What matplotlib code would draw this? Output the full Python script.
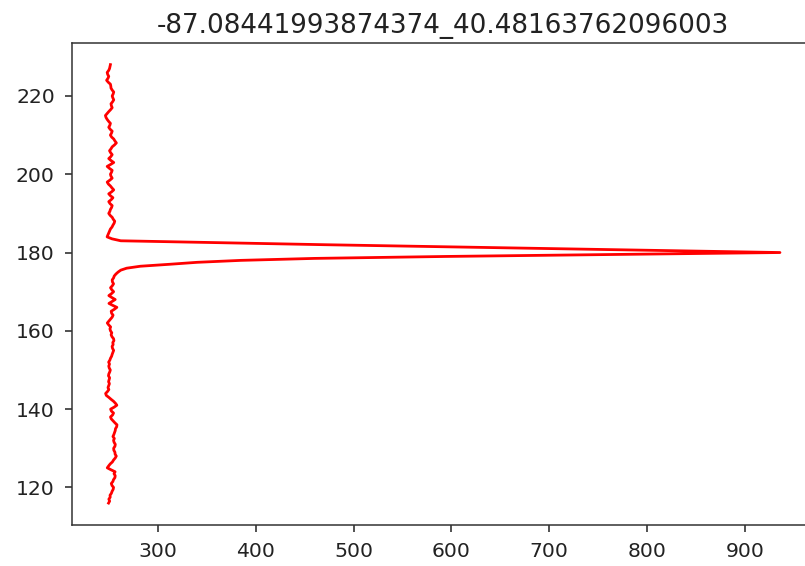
import matplotlib
matplotlib.use("Agg")
import matplotlib.pyplot as plt
import numpy as np

title = "-87.08441993874374_40.48163762096003"

# sampling levels (y): 116.0 to 228.0 in half steps
levels = np.arange(116.0, 228.25, 0.5)

# signal (x) values, one per level, bottom to top
values = [
    249.5, 250.6, 249.8, 251.2, 251.0, 252.4, 253.1, 254.2, 254.6, 253.0,   # 116.0-120.5
    252.3, 253.9, 254.6, 256.0, 256.3, 255.1, 256.2, 252.0, 248.2, 249.6,   # 121.0-125.5
    251.2, 253.4, 254.6, 256.3, 257.4, 256.2, 256.0, 254.9, 254.7, 256.0,   # 126.0-130.5
    256.4, 255.2, 254.6, 255.4, 254.0, 254.9, 255.6, 256.3, 256.6, 257.8,   # 131.0-135.5
    258.1, 256.0, 254.2, 252.3, 251.5, 253.6, 254.6, 252.4, 251.6, 255.2,   # 136.0-140.5
    258.0, 256.5, 254.6, 252.1, 249.8, 247.2, 246.5, 248.4, 249.8, 248.9,   # 141.0-145.5
    249.6, 250.4, 249.5, 250.1, 250.6, 249.4, 249.8, 250.7, 251.3, 250.2,   # 146.0-150.5
    249.7, 250.5, 249.6, 250.8, 251.5, 252.6, 253.2, 254.0, 254.7, 253.6,   # 151.0-155.5
    253.1, 254.2, 253.8, 255.0, 254.6, 253.0, 252.1, 252.8, 251.5, 250.9,   # 156.0-160.5
    251.6, 249.7, 248.2, 249.9, 251.5, 253.2, 254.1, 252.6, 252.2, 255.4,   # 161.0-165.5
    258.0, 253.8, 249.9, 253.1, 256.3, 252.9, 249.8, 252.5, 254.7, 252.8,   # 166.0-170.5
    251.5, 253.3, 254.6, 253.5, 253.2, 254.6, 255.3, 257.0, 259.2, 262.0,   # 171.0-175.5
    268.0, 282.0, 312.0, 340.0, 385.0, 460.0, 595.0, 765.0, 936.0, 820.0,   # 176.0-180.5
    705.0, 590.0, 470.0, 365.0, 262.0, 253.0, 248.0, 248.8, 249.7, 250.6,   # 181.0-185.5
    251.4, 253.0, 254.0, 255.2, 255.8, 254.3, 253.2, 251.1, 249.7, 250.8,   # 186.0-190.5
    251.4, 252.6, 253.2, 251.0, 249.7, 252.2, 254.0, 251.5, 249.7, 252.6,   # 191.0-195.5
    254.8, 253.0, 251.4, 249.3, 248.1, 250.9, 253.2, 252.0, 251.4, 252.5,   # 196.0-200.5
    253.2, 250.4, 248.1, 251.6, 254.8, 252.0, 249.7, 251.8, 253.2, 251.6,   # 201.0-205.5
    250.5, 252.0, 253.2, 255.6, 257.5, 256.0, 254.8, 252.6, 251.4, 252.5,   # 206.0-210.5
    253.2, 251.1, 249.7, 250.8, 251.4, 249.6, 248.1, 246.9, 246.3, 248.0,   # 211.0-215.5
    249.7, 251.6, 253.2, 252.4, 252.0, 253.6, 254.8, 253.9, 253.2, 254.2,   # 216.0-220.5
    254.8, 253.2, 252.0, 251.8, 251.4, 249.2, 247.5, 248.9, 249.7, 248.6,   # 221.0-225.5
    248.1, 249.6, 250.5, 251.0, 251.4,                                      # 226.0-228.0
]

fig = plt.figure(figsize=(8.05, 5.66), dpi=100)
ax = fig.add_axes([71.7 / 805, 41.0 / 566, 742.0 / 805, 482.3 / 566])
ax.plot(values, levels, color="red", linewidth=2.0)

ax.set_title(title, fontsize=18.9, pad=7, color="#222222")
ax.tick_params(axis="both", labelsize=14.7, length=5.2, width=1.1,
               pad=7, colors="#222222")
for side in ("top", "bottom", "left"):
    ax.spines[side].set_linewidth(1.1)
    ax.spines[side].set_color("#333333")
ax.spines["right"].set_visible(False)

fig.savefig("out.png", dpi=100)
